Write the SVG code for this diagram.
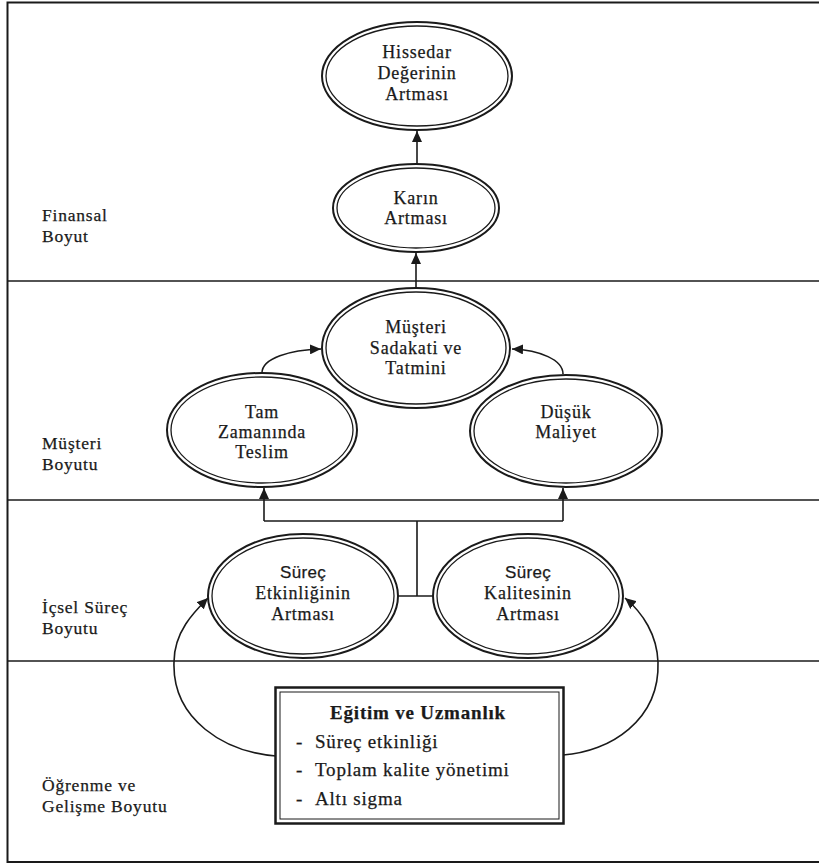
<svg xmlns="http://www.w3.org/2000/svg" width="819" height="866" viewBox="0 0 819 866">
<defs>
<marker id="ah" markerUnits="userSpaceOnUse" markerWidth="12" markerHeight="10" refX="11" refY="5" orient="auto">
<path d="M0,0 L11,5 L0,10 z" fill="#1a1a1a"/>
</marker>
<style>
.o{fill:#fff;stroke:#1a1a1a;stroke-width:2}
.i{fill:none;stroke:#1a1a1a;stroke-width:1.3}
text{font-family:'Liberation Serif','Times New Roman',Tinos,'DejaVu Serif',serif;fill:#1a1a1a;stroke:#1a1a1a;stroke-width:0.25}
.t{font-size:18px;letter-spacing:0.8px;text-anchor:middle}
text.s{font-family:'Liberation Sans',Arial,sans-serif;font-size:17px;letter-spacing:0.3px}
.lab{font-size:17.5px;letter-spacing:0.8px}
.bx{font-size:19px;letter-spacing:0.8px}
.ln{fill:none;stroke:#1a1a1a;stroke-width:1.6}
.c{fill:none;stroke:#1a1a1a;stroke-width:1.6}
</style>
</defs>
<rect width="819" height="866" fill="#fff"/>
<g id="frame">
<rect x="7.5" y="2.5" width="830" height="859.5" fill="none" stroke="#1a1a1a" stroke-width="2"/>
<line x1="7" y1="281" x2="819" y2="281" class="ln"/>
<line x1="7" y1="500" x2="819" y2="500" class="ln"/>
<line x1="7" y1="661" x2="819" y2="661" class="ln"/>
</g>
<g id="labels">
<text class="lab" x="42" y="221">Finansal</text>
<text class="lab" x="42" y="242">Boyut</text>
<text class="lab" x="42" y="449">Müşteri</text>
<text class="lab" x="42" y="470">Boyutu</text>
<text class="lab" x="42" y="613">İçsel Süreç</text>
<text class="lab" x="42" y="634">Boyutu</text>
<text class="lab" x="42" y="791">Öğrenme ve</text>
<text class="lab" x="42" y="812">Gelişme Boyutu</text>
</g>
<g id="connectors">
<line x1="417" y1="164" x2="417" y2="131" class="c" marker-end="url(#ah)"/>
<line x1="416" y1="289" x2="416" y2="253" class="c" marker-end="url(#ah)"/>
<path d="M262,373 C262,358 290,350 321,349" class="c" marker-end="url(#ah)"/>
<path d="M563,374 C563,360 540,350 512,349" class="c" marker-end="url(#ah)"/>
<path d="M417,596 L417,521 M264,521 L563,521" class="c"/>
<line x1="264" y1="521" x2="264" y2="488" class="c" marker-end="url(#ah)"/>
<line x1="563" y1="521" x2="563" y2="488" class="c" marker-end="url(#ah)"/>
<line x1="398" y1="596" x2="433" y2="596" class="c"/>
<path d="M276,756 C225,752 172,720 174,662 C174,632 194,612 208,598" class="c" marker-end="url(#ah)"/>
<path d="M563,755 C610,752 660,720 658,662 C657,635 643,613 625,598" class="c" marker-end="url(#ah)"/>
</g>
<g id="hissedar">
<ellipse cx="417" cy="76" rx="95" ry="54" class="o"/>
<ellipse cx="417" cy="76" rx="91" ry="50" class="i"/>
<text class="t" x="417" y="58">Hissedar</text>
<text class="t" x="417" y="79">Değerinin</text>
<text class="t" x="417" y="100">Artması</text>
</g>
<g id="karin">
<ellipse cx="416" cy="208" rx="83" ry="44" class="o"/>
<ellipse cx="416" cy="208" rx="79" ry="40" class="i"/>
<text class="t" x="416" y="204">Karın</text>
<text class="t" x="416" y="224">Artması</text>
</g>
<g id="musteri">
<ellipse cx="416" cy="348" rx="94" ry="60" class="o"/>
<ellipse cx="416" cy="348" rx="90" ry="56" class="i"/>
<text class="t" x="416" y="333">Müşteri</text>
<text class="t" x="416" y="354">Sadakati ve</text>
<text class="t" x="416" y="374">Tatmini</text>
</g>
<g id="tam">
<ellipse cx="262" cy="430" rx="95" ry="57" class="o"/>
<ellipse cx="262" cy="430" rx="91" ry="53" class="i"/>
<text class="t" x="262" y="418">Tam</text>
<text class="t" x="262" y="438">Zamanında</text>
<text class="t" x="262" y="458">Teslim</text>
</g>
<g id="dusuk">
<ellipse cx="566" cy="431" rx="96" ry="56" class="o"/>
<ellipse cx="566" cy="431" rx="92" ry="52" class="i"/>
<text class="t" x="566" y="418">Düşük</text>
<text class="t" x="566" y="438">Maliyet</text>
</g>
<g id="etkinlik">
<ellipse cx="303" cy="596" rx="95" ry="62" class="o"/>
<ellipse cx="303" cy="596" rx="91" ry="58" class="i"/>
<text class="t s" x="303" y="578">Süreç</text>
<text class="t" x="303" y="599">Etkinliğinin</text>
<text class="t" x="303" y="620">Artması</text>
</g>
<g id="kalite">
<ellipse cx="528" cy="596" rx="95" ry="62" class="o"/>
<ellipse cx="528" cy="596" rx="91" ry="58" class="i"/>
<text class="t s" x="528" y="578">Süreç</text>
<text class="t" x="528" y="599">Kalitesinin</text>
<text class="t" x="528" y="620">Artması</text>
</g>
<g id="egitim">
<rect x="275.5" y="687.5" width="288" height="136" fill="#fff" stroke="#1a1a1a" stroke-width="2.5"/>
<rect x="280" y="692" width="279" height="127" fill="none" stroke="#1a1a1a" stroke-width="1"/>
<text class="bx" x="418" y="719" text-anchor="middle" font-weight="bold" letter-spacing="0.6">Eğitim ve Uzmanlık</text>
<text class="bx" x="296" y="748">-</text>
<text class="bx" x="315" y="748">Süreç etkinliği</text>
<text class="bx" x="296" y="776">-</text>
<text class="bx" x="315" y="776">Toplam kalite yönetimi</text>
<text class="bx" x="296" y="805">-</text>
<text class="bx" x="315" y="805">Altı sigma</text>
</g>
</svg>
